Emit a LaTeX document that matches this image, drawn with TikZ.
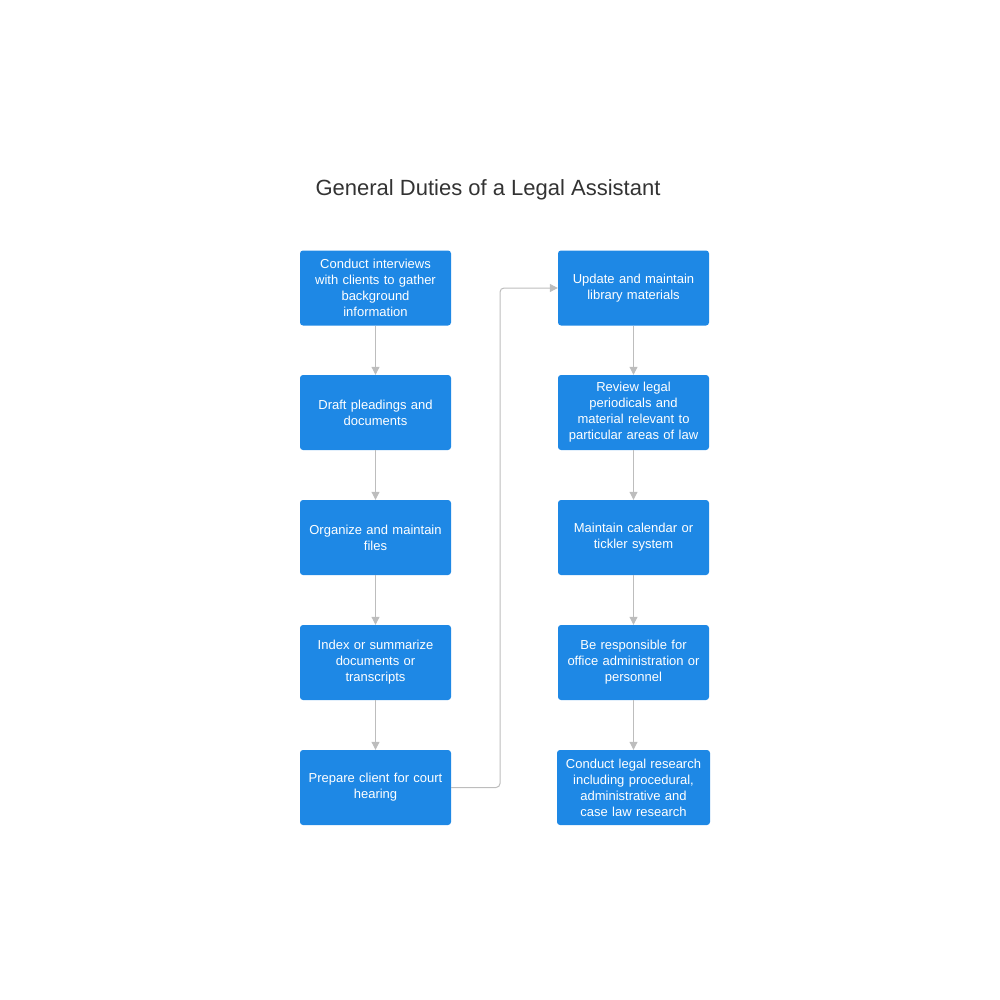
\documentclass[tikz,border=0pt]{standalone}
\usepackage{fontspec}
\setmainfont{Liberation Sans}
\usetikzlibrary{arrows.meta}
\definecolor{boxblue}{HTML}{1E88E5}
\definecolor{linegray}{HTML}{BDBDBD}
\definecolor{titlegray}{HTML}{333333}
\begin{document}
\begin{tikzpicture}[x=1pt,y=-1pt,
  duty/.style={fill=boxblue,draw=none,rounded corners=3pt,minimum width=151pt,minimum height=75pt,text width=145pt,align=center,text=white,font=\fontsize{13}{16}\selectfont,inner sep=2pt},
  conn/.style={draw=linegray,line width=1pt,-{Triangle[length=8pt,width=8pt]}}]
\useasboundingbox (0,0) rectangle (1000,1000);
\node[text=titlegray,font=\fontsize{22}{26}\selectfont] (title) at (488,190) {General Duties of a Legal Assistant};
\node[duty] (l1) at (375.5,288) {Conduct interviews\\with clients to gather\\background\\information};
\node[duty] (l2) at (375.5,412.5) {Draft pleadings and\\documents};
\node[duty] (l3) at (375.5,537.5) {Organize and maintain\\files};
\node[duty] (l4) at (375.5,662.5) {Index or summarize\\documents or\\transcripts};
\node[duty] (l5) at (375.5,787.5) {Prepare client for court\\hearing};
\node[duty] (r1) at (633.5,288) {Update and maintain\\library materials};
\node[duty] (r2) at (633.5,412.5) {Review legal\\periodicals and\\material relevant to\\particular areas of law};
\node[duty] (r3) at (633.5,537.5) {Maintain calendar or\\tickler system};
\node[duty] (r4) at (633.5,662.5) {Be responsible for\\office administration or\\personnel};
\node[duty,minimum width=153pt] (r5) at (633.5,787.5) {Conduct legal research\\including procedural,\\administrative and\\case law research};
\draw[conn] (l1) -- (l2);
\draw[conn] (l2) -- (l3);
\draw[conn] (l3) -- (l4);
\draw[conn] (l4) -- (l5);
\draw[conn] (r1) -- (r2);
\draw[conn] (r2) -- (r3);
\draw[conn] (r3) -- (r4);
\draw[conn] (r4) -- (r5);
\draw[conn,rounded corners=4pt] (l5.east) -- (500,787.5) -- (500,288) -- (r1.west);
\end{tikzpicture}
\end{document}
